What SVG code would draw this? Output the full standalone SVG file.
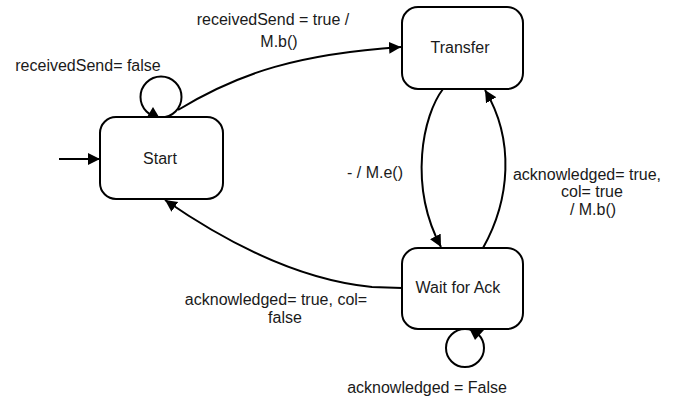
<svg xmlns="http://www.w3.org/2000/svg" width="680" height="401" viewBox="0 0 680 401">
<style>
.box{fill:#fff;stroke:#000;stroke-width:2}
.lbl{font-family:"Liberation Sans",Arial,sans-serif;font-size:16px;fill:#1a1a1a;text-anchor:middle}
.ln{fill:none;stroke:#000;stroke-width:2}
.head{fill:#000}
</style>
<defs>
<marker id="arr" markerUnits="userSpaceOnUse" markerWidth="13" markerHeight="13" refX="12" refY="6" orient="auto">
<path d="M0,0 L12,6 L0,12 z" fill="#000"/>
</marker>
</defs>
<g id="connectors">
<line class="ln" x1="59" y1="159" x2="100" y2="159" marker-end="url(#arr)"/>
<circle class="ln" cx="161" cy="97" r="20.5"/>
<polygon class="head" points="147,117 159,117 153,107"/>
<path class="ln" d="M178 110 C240 72,300 54,401 47" marker-end="url(#arr)"/>
<path class="ln" d="M443 89 C423 115,408 185,441 247" marker-end="url(#arr)"/>
<path class="ln" d="M483 248 C510 200,515 140,485 90" marker-end="url(#arr)"/>
<path class="ln" d="M402 288 L372 287 C300 280,230 245,165 200" marker-end="url(#arr)"/>
<circle class="ln" cx="465" cy="348" r="19"/>
<polygon class="head" points="470,330 484,330 475,340"/>
</g>
<g id="start">
<rect class="box" x="100" y="117" width="123" height="82" rx="16"/>
<text class="lbl" x="160" y="164">Start</text>
</g>
<g id="transfer">
<rect class="box" x="402" y="7" width="121" height="82" rx="16"/>
<text class="lbl" x="460" y="53">Transfer</text>
</g>
<g id="waitforack">
<rect class="box" x="402" y="248" width="121" height="81" rx="16"/>
<text class="lbl" x="458" y="293">Wait for Ack</text>
</g>
<g id="labels">
<text class="lbl" x="273" y="25">receivedSend = true /</text>
<text class="lbl" x="279" y="47">M.b()</text>
<text class="lbl" x="88" y="71">receivedSend= false</text>
<text class="lbl" x="375" y="178">- / M.e()</text>
<text class="lbl" x="587" y="180">acknowledged= true,</text>
<text class="lbl" x="592" y="197">col= true</text>
<text class="lbl" x="593" y="215">/ M.b()</text>
<text class="lbl" x="276" y="305">acknowledged= true, col=</text>
<text class="lbl" x="285" y="323">false</text>
<text class="lbl" x="427" y="393">acknowledged = False</text>
</g>
</svg>
